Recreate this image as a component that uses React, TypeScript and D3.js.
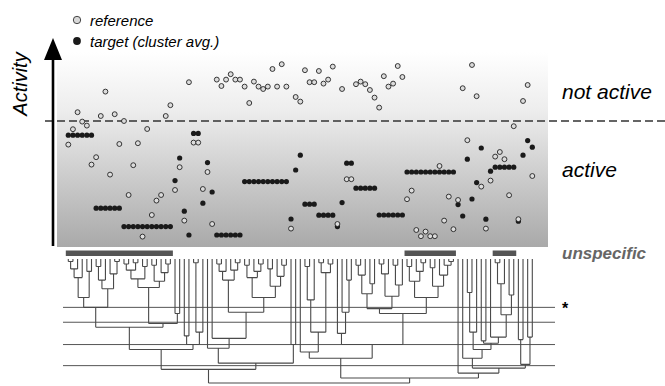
import React from 'react';
import * as d3 from 'd3';

// activity of each leaf (one compound per leaf, 0..100)
const reference = [
  52.7, 60.4, 68.9, 64.2, 62.2, 42.7, 46.4, 67, 79.2, 37.7,
  67.9, 53, 64.5, 27.5, 42.4, 53.4, 6.7, 60.5, 17.5, 24.7,
  27.5, 67, 72.4, 30, 41.4, 14.7, 83.9, 53.7, 53.7, 30.5,
  39, 13, 85.2, 82, 85.2, 87.9, 85.2, 85.2, 81.7, 73.5,
  84.2, 81.7, 80.5, 81.7, 90.5, 81.7, 92.9, 81.7, 10.7, 76.5,
  74.2, 89.9, 83.9, 83.9, 89.5, 83.2, 85.2, 91.7, 13, 80.5,
  35.4, 35.4, 82.9, 84.2, 82.9, 80, 76.2, 71.2, 86.9, 81.7,
  83.2, 92, 86.5, 25.4, 29.7, 10, 6.9, 9.2, 6.9, 6.9,
  42, 14.7, 26.7, 10.4, 25, 80.9, 54.9, 92.5, 76.9, 31.7,
  10.7, 34.7, 46.7, 49, 45.4, 27.4, 61.9, 15.4, 74.5, 82.5,
  37,
];

const target = [
  57.4, 57.4, 57.4, 57.4, 57.4, 57.4, 20.9, 20.9, 20.9, 20.9,
  20.9, 20.9, 11.7, 11.7, 11.7, 11.7, 11.7, 11.7, 11.7, 11.7,
  11.7, 11.7, 11.7, 34.7, 46, 19.4, 7.5, 58.3, 58.3, 23.4,
  43.7, 29, 7.5, 7.5, 7.5, 7.5, 7.5, 7.5, 34.2, 34.2,
  34.2, 34.2, 34.2, 34.2, 34.2, 34.2, 34.2, 34.2, 15.5, 40,
  47.4, 22.9, 22.9, 22.9, 17.4, 17.4, 17.4, 17.4, 11.7, 23.7,
  43.4, 43.4, 30.9, 30.9, 30.9, 30.9, 30.9, 17.5, 17.5, 17.5,
  17.5, 17.5, 17.5, 39, 39, 39, 39, 39, 39, 39,
  39, 39, 39, 39, 22.7, 17, 45.4, 25.5, 33.7, 51,
  15.4, 39.4, 41.4, 41.4, 41.4, 41.4, 41.4, 14.4, 47.4, 54.7,
  51.4,
];

const threshold = 64.5;

// leaf ranges of the unspecific clusters
const unspecific = [[0, 22], [73, 83], [92, 96]];

// dendrogram: [mergeHeight, ...children], leaves are leaf indices
const tree = [10,
  [8.9,
    [7.3,
      [5.5,
        [3.9,
          [3.1, [1.5, [0.8, [0.2, 0, 1], 2], 3], [1.0, 4, 5]],
          [2.4, [1.7, [0.6, 6, 7], 8], [1.2, 9, [0.2, 10, 11]]]],
        [5.2,
          [2.3, [1.6, [0.9, [0.4, 12, 13], [0.3, 14, 15]], [0.6, 16, 17]],
            [1.8, [0.5, 18, 19], [1.1, 20, [0.4, 21, 22]]]],
          [4.4, 23, 24]]],
      [6.9, [6.2, 25, 26], [5.9, [0.3, 27, 28], 29]]],
    [8.4,
      [7.2, 30,
        [6.4, 31,
          [4.3,
            [1.7, [1.0, [0.4, 32, 33], 34], [0.9, 35, [0.3, 36, 37]]],
            [3.1, [1.5, [0.5, 38, 39], [1.0, 40, [0.4, 41, 42]]],
              [2.2, [0.8, 43, 44], [1.4, 45, [0.5, 46, 47]]]]]]],
      [6.9, 48, 49]]],
  [9.6,
    [8.0,
      [7.5, 50, [5.9, [3.3, [0.6, 51, 52], 53], [1.1, [0.3, 54, 55], [0.4, 56, 57]]]],
      [6.9,
        [6.0, 58, [4.3, 59, [1.7, 60, 61]]],
        [4.4,
          [4.0,
            [2.8, [1.3, [0.5, 62, 63], 64], [2.0, 65, 66]],
            [3.0, [1.2, [0.4, 67, 68], 69], [2.1, [0.5, 70, 71], 72]]],
          [3.1, [1.8, [0.6, 73, 74], [1.0, 75, [0.3, 76, 77]]],
            [2.2, [0.7, 78, 79], [1.3, 80, [0.5, 81, [0.2, 82, 83]]]]]]]],
    [9.2, 84,
      [8.8,
        [8.0, 85,
          [7.3,
            [5.9, [2.7, 86, 87], 88],
            [6.8, [6.6, 89, 90], [6.3, 91, [4.5, [2.0, [0.3, 92, 93], 94], [2.9, 95, 96]]]]]],
        [8.5, [6.5, 97, 98], [6.3, 99, 100]]]]]];

const W = 665;
const H = 386;
const font = "'Liberation Sans', Arial, sans-serif";

export default function App() {
  const x = d3.scaleLinear().domain([0, reference.length - 1]).range([68.3, 532.3]);
  const y = d3.scaleLinear().domain([0, 100]).range([250, 50]);
  const yd = d3.scaleLinear().domain([0, 10]).range([259, 383]);

  // dendrogram layout
  const root = d3.hierarchy<any>(tree, (n) => (Array.isArray(n) ? n.slice(1) : null));
  const pos = new Map<any, { x: number; y: number }>();
  root.eachAfter((n: any) => {
    if (!n.children) {
      pos.set(n, { x: x(n.data), y: yd(0) });
    } else {
      const xs = n.children.map((c: any) => pos.get(c)!.x);
      pos.set(n, { x: (d3.min(xs)! + d3.max(xs)!) / 2, y: yd(n.data[0]) });
    }
  });
  const links: string[] = [];
  root.each((n: any) => {
    if (!n.children) return;
    const p = pos.get(n)!;
    const xs = n.children.map((c: any) => pos.get(c)!.x);
    links.push(`M${d3.min(xs)},${p.y}H${d3.max(xs)}`);
    n.children.forEach((c: any) => {
      const q = pos.get(c)!;
      links.push(`M${q.x},${q.y}V${p.y}`);
    });
  });

  const cuts = [3.9, 5.1, 6.9, 8.6];

  return (
    <svg width={W} height={H} style={{ position: 'absolute', left: 0, top: 0, background: '#fff' }}>
      <defs>
        <linearGradient id="bg" x1="0" y1="0" x2="0" y2="1">
          <stop offset="0" stopColor="#ffffff" />
          <stop offset="0.3" stopColor="#ededed" />
          <stop offset="1" stopColor="#a9a9a9" />
        </linearGradient>
      </defs>

      {/* activity panel */}
      <rect x={57} y={52} width={491} height={195} fill="url(#bg)" />

      {/* threshold */}
      <line x1={45} x2={665} y1={y(threshold)} y2={y(threshold)}
        stroke="#333" strokeWidth={1.3} strokeDasharray="8,4" />

      {/* activity axis arrow */}
      <line x1={53} x2={53} y1={246} y2={58} stroke="#000" strokeWidth={2.6} />
      <path d="M44,60L62,60L53,38Z" fill="#000" />
      <text transform="translate(27,84) rotate(-90)" textAnchor="middle" fontFamily={font}
        fontStyle="italic" fontSize={20}>Activity</text>

      {/* legend */}
      <circle cx={77} cy={20} r={3.7} fill="#d8d8d8" stroke="#333" strokeWidth={0.9} />
      <text x={90} y={25.5} fontFamily={font} fontStyle="italic" fontSize={15}>reference</text>
      <circle cx={77} cy={41} r={3.9} fill="#1a1a1a" />
      <text x={90} y={46.5} fontFamily={font} fontStyle="italic" fontSize={15}>target (cluster avg.)</text>

      {/* target (cluster averages) */}
      {target.map((v, i) => (
        <circle key={'t' + i} cx={x(i)} cy={y(v)} r={2.6} fill="#1a1a1a" />
      ))}
      {/* reference compounds */}
      {reference.map((v, i) => (
        <circle key={'r' + i} cx={x(i)} cy={y(v)} r={2.45} fill="#dcdcdc" stroke="#222" strokeWidth={0.9} />
      ))}

      {/* right labels */}
      <text x={562} y={99} fontFamily={font} fontStyle="italic" fontSize={21}>not active</text>
      <text x={562} y={177} fontFamily={font} fontStyle="italic" fontSize={21}>active</text>
      <text x={562} y={259} fontFamily={font} fontStyle="italic" fontWeight="bold" fontSize={17} fill="#666">unspecific</text>

      {/* unspecific cluster bars */}
      {unspecific.map(([a, b], i) => (
        <rect key={'u' + i} x={x(a) - 2.5} y={250.5} width={x(b) - x(a) + 5} height={5.5} fill="#555" />
      ))}

      {/* cut levels */}
      {cuts.map((c, i) => (
        <line key={'c' + i} x1={63} x2={555} y1={yd(c)} y2={yd(c)} stroke="#555" strokeWidth={1} />
      ))}
      <text x={562} y={314} fontFamily={font} fontWeight="bold" fontSize={16}>*</text>

      {/* dendrogram */}
      <path d={links.join('')} fill="none" stroke="#4a4a4a" strokeWidth={1.1} />
    </svg>
  );
}
